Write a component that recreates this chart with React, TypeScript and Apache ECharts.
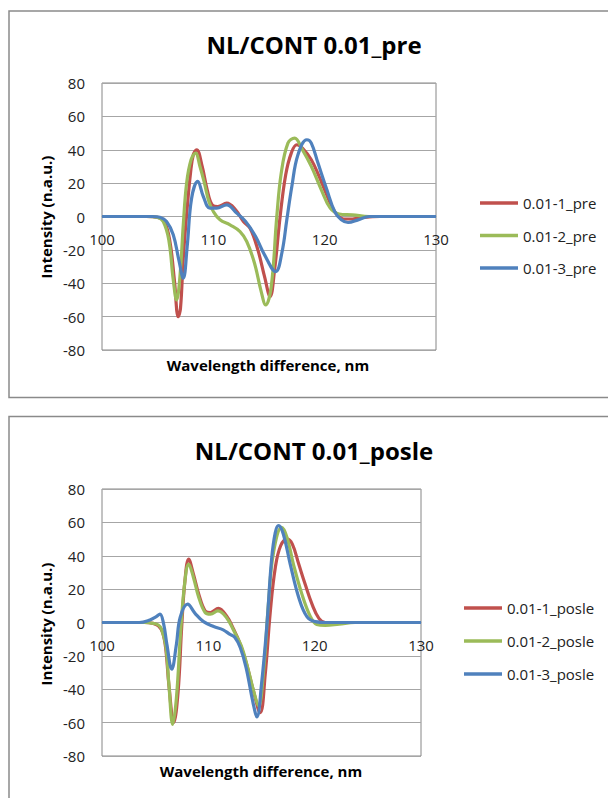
import React, { useEffect, useRef } from "react";
import * as echarts from "echarts";

const preTitle = "NL/CONT 0.01_pre";
const posleTitle = "NL/CONT 0.01_posle";
const xAxisName = "Wavelength difference, nm";
const yAxisName = "Intensity (n.a.u.)";
const preNames = ["0.01-1_pre", "0.01-2_pre", "0.01-3_pre"];
const posleNames = ["0.01-1_posle", "0.01-2_posle", "0.01-3_posle"];

const preRedX = [100, 104, 105, 105.6, 106.1, 106.5, 106.85, 107.05, 107.3, 107.65, 107.95, 108.2, 108.5, 109, 109.45, 109.9, 110.4, 111.2, 112, 112.7, 113.3, 114, 114.6, 115.1, 115.5, 116, 116.5, 117, 117.5, 118, 118.8, 119.5, 120, 120.5, 121, 121.7, 122.5, 123.5, 125, 130];
const preRedY = [0, 0, -0.5, -3, -15, -38, -60, -55, -25, 5, 26, 37, 40, 30, 16, 7, 6, 8, 4, -3, -7, -20, -36, -48, -32, 0, 25, 38, 43, 41, 34, 24, 16, 8, 2, -1.5, -1.5, -0.5, 0, 0];

const preGreenX = [100, 104, 105, 105.5, 106, 106.4, 106.7, 107, 107.3, 107.6, 108, 108.4, 108.8, 109.2, 109.6, 110, 110.6, 111.5, 112.4, 113, 113.7, 114.3, 114.7, 115.2, 115.7, 116.1, 116.7, 117.3, 118, 118.8, 119.7, 120.5, 121.3, 122.5, 124, 130];
const preGreenY = [0, 0, -0.5, -3, -14, -38, -50, -36, -5, 20, 34, 38, 30, 20, 9, 3, -2, -5, -9, -15, -28, -45, -53, -42, 0, 26, 44, 47, 40, 30, 16, 5, 1.5, 1, 0, 0];

const preBlueX = [100, 104.5, 105.2, 105.8, 106.4, 106.9, 107.3, 107.65, 108.05, 108.6, 109.1, 109.7, 110.3, 111.2, 112.1, 112.9, 113.8, 114.6, 115.6, 116.15, 116.6, 117.05, 117.6, 118.4, 118.8, 119.4, 120.2, 120.9, 121.5, 122.1, 123, 124, 130];
const preBlueY = [0, 0, -0.5, -3, -11, -26, -37, -18, 11, 21, 12, 5, 5, 7, 2, -3, -12, -23, -33, -22, -2, 18, 37, 46, 44, 32, 16, 3, -2, -3.6, -2, 0, 0];

const posleRedX = [100, 104, 104.8, 105.3, 105.7, 106, 106.3, 106.75, 107.15, 107.5, 107.8, 108.15, 108.6, 109.1, 109.7, 110.2, 110.95, 111.7, 112.3, 113, 113.6, 114.2, 114.88, 115.35, 115.82, 116.3, 116.8, 117.4, 117.9, 118.5, 119.1, 119.75, 120.4, 121, 130];
const posleRedY = [0, 0, -0.5, -2, -6, -16, -38, -60, -42, -2, 25, 38, 29, 17, 7, 6, 8.5, 4, -3, -13, -25, -40, -54, -31, 6, 33, 46, 50, 47, 35, 23, 11, 2.5, 0, 0];

const posleGreenX = [100, 104, 104.8, 105.3, 105.6, 106, 106.3, 106.65, 107, 107.4, 107.8, 108.15, 108.6, 109.1, 109.7, 110.2, 110.9, 111.7, 112.4, 113.1, 113.7, 114.3, 114.72, 115.2, 115.66, 116.13, 116.9, 117.4, 118, 118.8, 119.6, 120.2, 121, 122.3, 123.8, 130];
const posleGreenY = [0, 0, -0.5, -1.5, -4, -14, -38, -61, -45, -5, 25, 35, 27, 15, 6, 5, 7, 3, -5, -14, -27, -42, -50, -29, 12, 42, 57, 51, 35, 17, 3.5, -1.2, -1.8, -1, 0, 0];

const posleBlueX = [100, 103.5, 104.5, 105.1, 105.45, 105.8, 106.1, 106.56, 107, 107.35, 108.05, 108.75, 109.55, 110.5, 111.4, 112, 112.5, 113, 113.55, 114.2, 114.57, 115, 115.5, 115.95, 116.3, 116.6, 117.05, 117.7, 118.5, 119.27, 120.06, 121, 130];
const posleBlueY = [0, 0, 1.5, 3.5, 5, -1, -13, -28, -13, 3, 11, 5.5, 0.5, -2.4, -4.4, -7, -9, -15, -27, -48, -56.5, -37, -2, 38, 54, 58, 53, 35, 15, 3.5, 0.5, 0, 0];

const colors = ["#C0504D", "#9BBB59", "#4F81BD"];
const FONT = "'Open Sans', 'Liberation Sans', sans-serif";

const zip = (xs: number[], ys: number[]) => xs.map((x, i) => [x, ys[i]]);

export default function App() {
  const ref = useRef<HTMLDivElement>(null);
  useEffect(() => {
    document.body.style.margin = "0";
    if (!ref.current) return;
    const chart = echarts.init(ref.current, null, { renderer: "svg" });

    const grids = [
      { left: 102, top: 83, width: 334, height: 267 },
      { left: 102, top: 489, width: 319, height: 267 },
    ];

    const mkX = (gi: number) => ({
      type: "value",
      gridIndex: gi,
      position: "bottom",
      offset: -grids[gi].height / 2,
      min: 100,
      max: 130,
      interval: 10,
      axisLine: { show: true, onZero: false, lineStyle: { color: "#a6a6a6", width: 1 } },
      axisTick: { show: false },
      splitLine: { show: false },
      axisLabel: { margin: 15, fontSize: 15, color: "#222", fontFamily: FONT },
    });
    const mkY = (gi: number) => ({
      type: "value",
      gridIndex: gi,
      min: -80,
      max: 80,
      interval: 20,
      axisLine: { show: false },
      axisTick: { show: false },
      splitLine: { show: true, lineStyle: { color: "#a6a6a6", width: 1 } },
      axisLabel: { margin: 17, fontSize: 15, color: "#222", fontFamily: FONT },
    });

    const mkSeries = (name: string, gi: number, color: string, xs: number[], ys: number[]) => ({
      name,
      type: "line",
      xAxisIndex: gi,
      yAxisIndex: gi,
      data: zip(xs, ys),
      smooth: 0.4,
      symbol: "none",
      showSymbol: false,
      lineStyle: { color, width: 3.2 },
      itemStyle: { color },
    });

    const mkLegend = (names: string[], left: number, top: number, gap: number) => ({
      data: names.map((n) => ({ name: n, icon: "rect" })),
      orient: "vertical",
      left,
      top,
      itemWidth: 38,
      itemHeight: 3.5,
      itemGap: gap,
      textStyle: { fontSize: 15, color: "#222", fontFamily: FONT, lineHeight: 16 },
    });

    const text = (t: string, x: number, y: number, size: number, rot = 0) => ({
      type: "text",
      x,
      y,
      rotation: rot,
      style: {
        text: t,
        fontSize: size,
        fontWeight: "bold",
        fontFamily: FONT,
        fill: "#000",
        textAlign: "center",
        textVerticalAlign: "middle",
      },
    });

    chart.setOption({
      animation: false,
      backgroundColor: "#fff",
      grid: grids.map((g) => ({ ...g, show: true, borderColor: "#868686", borderWidth: 1, backgroundColor: "transparent" })),
      xAxis: [mkX(0), mkX(1)],
      yAxis: [mkY(0), mkY(1)],
      legend: [mkLegend(preNames, 475, 190, 16.5), mkLegend(posleNames, 459, 595, 17)],
      series: [
        mkSeries(preNames[0], 0, colors[0], preRedX, preRedY),
        mkSeries(preNames[1], 0, colors[1], preGreenX, preGreenY),
        mkSeries(preNames[2], 0, colors[2], preBlueX, preBlueY),
        mkSeries(posleNames[0], 1, colors[0], posleRedX, posleRedY),
        mkSeries(posleNames[1], 1, colors[1], posleGreenX, posleGreenY),
        mkSeries(posleNames[2], 1, colors[2], posleBlueX, posleBlueY),
      ],
      graphic: [
        { type: "rect", shape: { x: 9, y: 11, width: 640, height: 386.5 }, style: { fill: "none", stroke: "#8a8a8a", lineWidth: 1.5 } },
        { type: "rect", shape: { x: 9, y: 416.5, width: 640, height: 420 }, style: { fill: "none", stroke: "#8a8a8a", lineWidth: 1.5 } },
        text(preTitle, 314, 44, 24),
        text(posleTitle, 314, 450, 24),
        text(xAxisName, 268, 365, 15),
        text(xAxisName, 261, 771, 15),
        text(yAxisName, 46, 217, 15, Math.PI / 2),
        text(yAxisName, 46, 624, 15, Math.PI / 2),
      ],
    });
    return () => chart.dispose();
  }, []);
  return <div ref={ref} style={{ width: 608, height: 798 }} />;
}
